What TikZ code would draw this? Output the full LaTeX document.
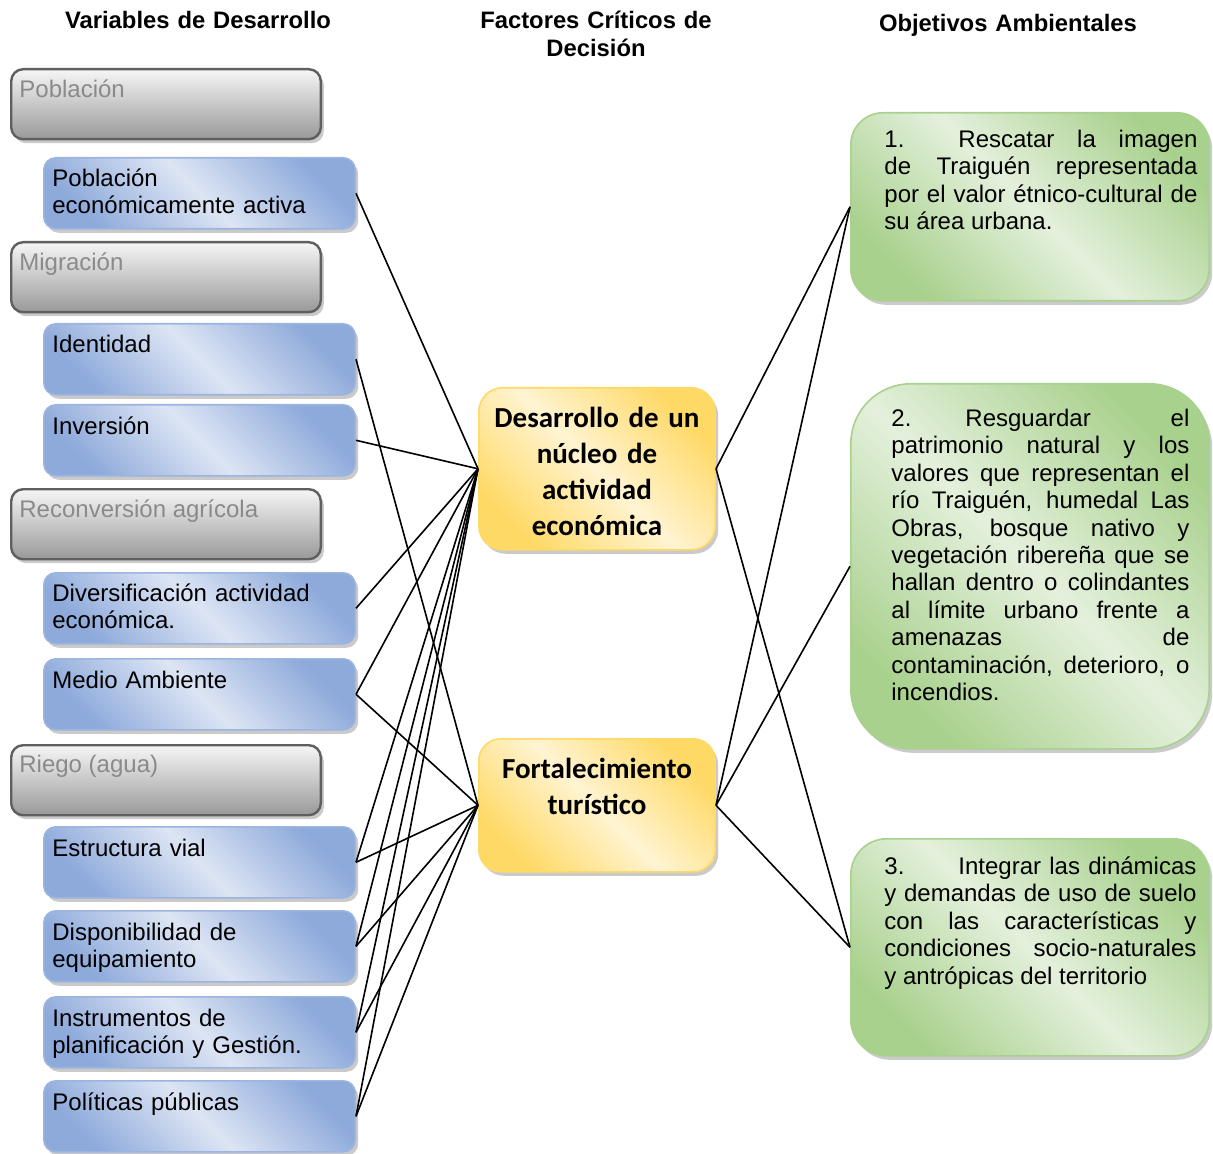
\documentclass[tikz,border=0pt]{standalone}
\usepackage{fontspec}
\setmainfont{Liberation Sans}
\newfontfamily\calibri{Carlito}
\usetikzlibrary{shadows}
\hyphenpenalty=10000
\exhyphenpenalty=10000
\tolerance=10000
\hbadness=10000

\definecolor{grayedge}{HTML}{5F5F5F}
\definecolor{graytop}{HTML}{F6F6F6}
\definecolor{graybot}{HTML}{999999}
\definecolor{graytext}{HTML}{8A8A8A}
\definecolor{bluedark}{HTML}{8EAADB}
\definecolor{bluelight}{HTML}{DDE5F4}
\definecolor{blueedge}{HTML}{9BB4E0}
\definecolor{yeldark}{HTML}{FFD966}
\definecolor{yellight}{HTML}{FFF4D2}
\definecolor{greendark}{HTML}{A9D18E}
\definecolor{greenlight}{HTML}{E4F0DC}

\begin{document}
\begin{tikzpicture}[x=0.5pt,y=-0.5pt,
  boxshadow/.style={drop shadow={shadow xshift=1.5pt,shadow yshift=-2pt,fill=black!35,opacity=.6}},
  catbox/.style={boxshadow,draw=grayedge,line width=1.2pt,rounded corners=6pt,
    top color=graytop,bottom color=graybot,anchor=north west,
    minimum width=154.8pt,minimum height=35pt,inner sep=0pt},
  varbox/.style={boxshadow,draw=blueedge,line width=0.8pt,rounded corners=6pt,
    left color=bluedark,right color=bluedark,middle color=bluelight,shading angle=-45,
    anchor=north west,minimum width=155.7pt,minimum height=35.5pt,inner sep=0pt},
  fcdbox/.style={boxshadow,draw=yeldark,line width=0.8pt,rounded corners=12pt,
    left color=yeldark,right color=yeldark,middle color=yellight,shading angle=-45,
    anchor=north west,minimum width=118.2pt,inner sep=0pt},
  objbox/.style={boxshadow,draw=greendark,line width=0.8pt,
    left color=greendark,right color=greendark,middle color=greenlight,shading angle=-45,
    anchor=north west,minimum width=179.2pt,inner sep=0pt},
  cattext/.style={anchor=base west,inner sep=0pt,text=graytext,font=\fontsize{12}{13.5}\selectfont},
  vartext/.style={anchor=base west,inner sep=0pt,text width=150pt,align=left,font=\fontsize{12}{13.5}\selectfont},
  fcdtext/.style={anchor=base,inner sep=0pt,text width=117pt,align=center,font=\calibri\bfseries\fontsize{14.5}{18}\selectfont},
  objtext/.style={anchor=base west,inner sep=0pt,align=justify,font=\fontsize{12}{13.7}\selectfont},
  head/.style={anchor=base,inner sep=0pt,text width=160pt,align=center,font=\bfseries\fontsize{11.9}{14}\selectfont},
  link/.style={line width=0.8pt}]

  \useasboundingbox (0,0) rectangle (1213,1154);

  % column titles
  \node[head] (h1) at (198,28.5) {Variables de Desarrollo};
  \node[head] (h2) at (596,28.5) {Factores Críticos de\\Decisión};
  \node[head] (h3) at (1008,31.5) {Objetivos Ambientales};

  % variables de desarrollo
  \node[catbox] (pob) at (10,68) {};
  \node[cattext] (pob-t) at (19,97.5) {Población};
  \node[varbox] (pea) at (43,157) {};
  \node[vartext] (pea-t) at (52,186.5) {Población\\económicamente activa};
  \node[catbox] (mig) at (10,241) {};
  \node[cattext] (mig-t) at (19,270.5) {Migración};
  \node[varbox] (ide) at (43,323) {};
  \node[vartext] (ide-t) at (52,352.5) {Identidad};
  \node[varbox] (inv) at (43,404) {};
  \node[vartext] (inv-t) at (52,434.5) {Inversión};
  \node[catbox] (rec) at (10,488) {};
  \node[cattext] (rec-t) at (19,517.5) {Reconversión agrícola};
  \node[varbox] (div) at (43,572) {};
  \node[vartext] (div-t) at (52,601.5) {Diversificación actividad\\económica.};
  \node[varbox] (mam) at (43,658) {};
  \node[vartext] (mam-t) at (52,688.5) {Medio Ambiente};
  \node[catbox] (rie) at (10,744) {};
  \node[cattext] (rie-t) at (19,772.5) {Riego (agua)};
  \node[varbox] (est) at (43,826) {};
  \node[vartext] (est-t) at (52,856.5) {Estructura vial};
  \node[varbox] (dis) at (43,910) {};
  \node[vartext] (dis-t) at (52,940.5) {Disponibilidad de\\equipamiento};
  \node[varbox] (ins) at (43,996) {};
  \node[vartext] (ins-t) at (52,1026.5) {Instrumentos de\\planificación y Gestión.};
  \node[varbox] (pol) at (43,1080) {};
  \node[vartext] (pol-t) at (52,1110.5) {Políticas públicas};

  % factores criticos
  \node[fcdbox,minimum height=81pt] (dnae) at (478,387) {};
  \node[fcdtext] (dnae-t) at (597,427) {Desarrollo de un\\núcleo de\\actividad\\económica};
  \node[fcdbox,minimum height=66.5pt,rounded corners=11pt] (ftur) at (478,738) {};
  \node[fcdtext] (ftur-t) at (597,778) {Fortalecimiento\\turístico};

  % objetivos ambientales
  \node[objbox,minimum height=94pt,rounded corners=16pt] (oa1) at (850,112) {};
  \node[objtext,text width=156.5pt] (oa1-t) at (884,147.5) {1.\hspace*{27pt}Rescatar la imagen\linebreak
    de Traiguén representada\linebreak por el valor étnico-cultural de\linebreak su área urbana.};
  \node[objbox,minimum height=182.5pt,rounded corners=30pt] (oa2) at (850,383) {};
  \node[objtext,text width=149pt] (oa2-t) at (891,426.5) {2.\hspace*{27pt}Resguardar el\linebreak
    patrimonio natural y los\linebreak valores que representan el\linebreak
    río Traiguén, humedal Las\linebreak Obras, bosque nativo y\linebreak
    vegetación ribereña que se\linebreak hallan dentro o colindantes\linebreak
    al límite urbano frente a\linebreak amenazas de\linebreak
    contaminación, deterioro, o\linebreak incendios.};
  \node[objbox,minimum height=108.5pt,rounded corners=18pt] (oa3) at (850,838) {};
  \node[objtext,text width=156pt] (oa3-t) at (884,874.5) {3.\hspace*{27pt}Integrar las dinámicas\linebreak
    y demandas de uso de suelo\linebreak con las características y\linebreak
    condiciones socio-naturales\linebreak y antrópicas del territorio};

  % relaciones
  \foreach \v in {pea,inv,div,mam,est,dis,ins,pol}
    \draw[link] (\v.east) -- (dnae.west);
  \foreach \v in {ide,mam,est,dis,ins,pol}
    \draw[link] (\v.east) -- (ftur.west);
  \foreach \o in {oa1,oa3}
    \draw[link] (dnae.east) -- (\o.west);
  \foreach \o in {oa1,oa2,oa3}
    \draw[link] (ftur.east) -- (\o.west);
\end{tikzpicture}
\end{document}
